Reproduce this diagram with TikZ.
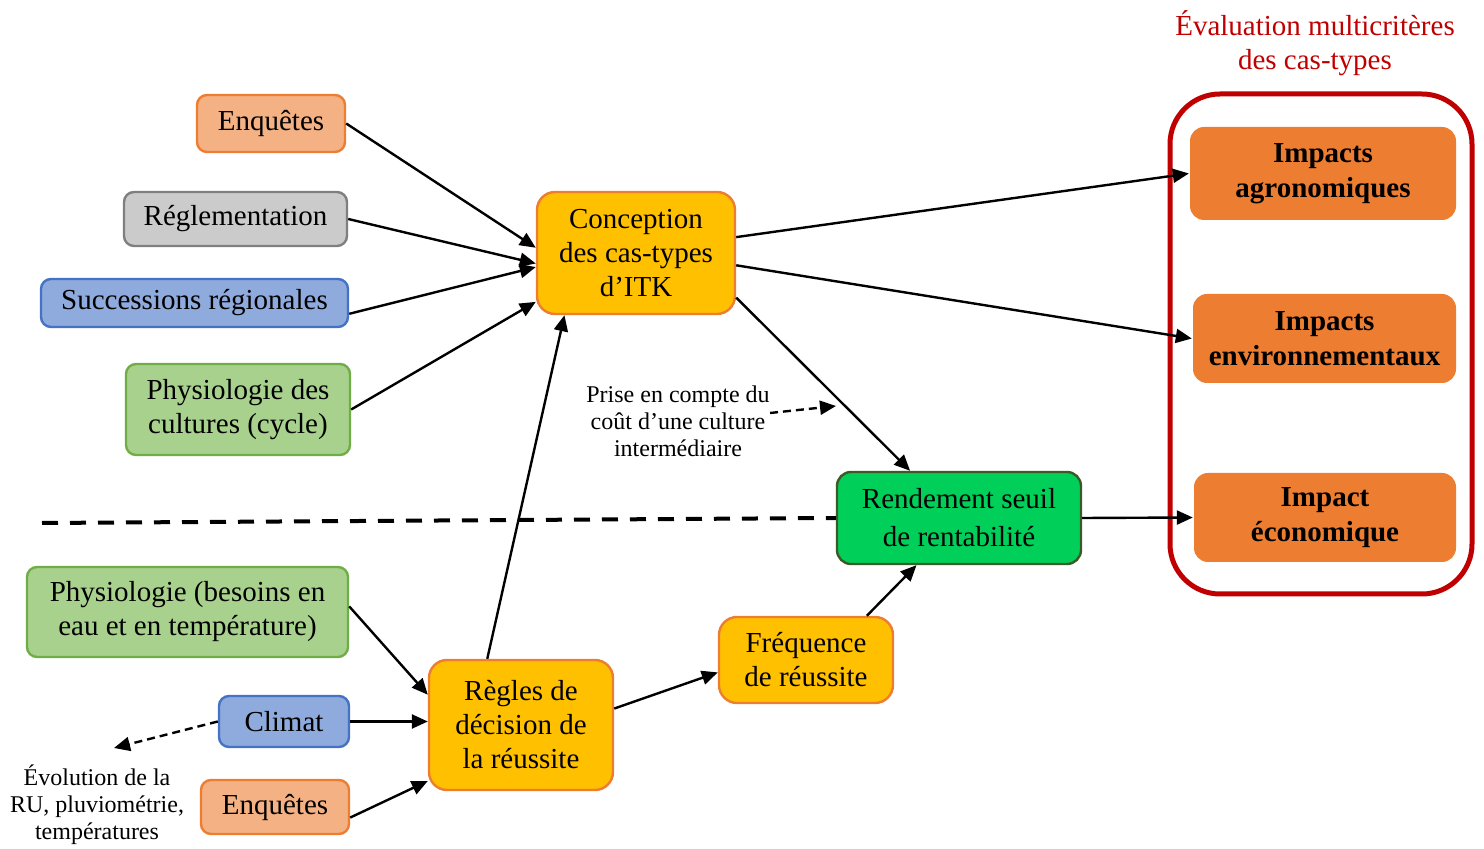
\documentclass[tikz,border=0pt]{standalone}
\usepackage{fontspec}
\setmainfont{Liberation Serif}
\usepackage{tikz}
\usetikzlibrary{arrows.meta,positioning,shapes}

\definecolor{enqfill}{HTML}{F4B183}
\definecolor{enqline}{HTML}{ED7D31}
\definecolor{reglfill}{HTML}{CBCBCB}
\definecolor{reglline}{HTML}{7F7F7F}
\definecolor{bluefill}{HTML}{8FAADC}
\definecolor{blueline}{HTML}{4472C4}
\definecolor{greenfill}{HTML}{A9D18E}
\definecolor{greenline}{HTML}{70AD47}
\definecolor{yelfill}{HTML}{FFC000}
\definecolor{impfill}{HTML}{ED7D31}
\definecolor{rendfill}{HTML}{00D05A}
\definecolor{rendline}{HTML}{3B5A27}
\definecolor{evalred}{HTML}{C00000}

\tikzset{
  box/.style = {draw, line width = 1.2pt, rounded corners = 5pt, align = center,
                inner sep = 0pt, font = \fontsize{14.5}{17}\selectfont},
  orangebox/.style = {box, fill = enqfill, draw = enqline},
  greybox/.style = {box, fill = reglfill, draw = reglline},
  bluebox/.style = {box, fill = bluefill, draw = blueline},
  greenbox/.style = {box, fill = greenfill, draw = greenline},
  yelbox/.style = {box, fill = yelfill, draw = enqline, rounded corners = 9pt},
  impbox/.style = {box, fill = impfill, draw = none, rounded corners = 7pt,
                   font = \fontsize{14.5}{17.5}\selectfont\bfseries},
  smalltext/.style = {align = center, inner sep = 0pt, font = \fontsize{12}{13.5}\selectfont},
  arr/.style = {-{Triangle[length = 8pt, width = 7pt]}, line width = 1.2pt},
  dasharr/.style = {arr, dash pattern = on 4pt off 2.5pt},
}

\begin{document}
\begin{tikzpicture}[x = .5pt, y = -.5pt]
\useasboundingbox (0,0) rectangle (1484,849);

% sources du haut
\node[orangebox, minimum width = 74pt, minimum height = 28.5pt] (enq1) at (271,123.5) {Enquêtes};
\node[greybox, minimum width = 111.5pt, minimum height = 27pt] (regl) at (235.5,219) {Réglementation};
\node[bluebox, minimum width = 153.5pt, minimum height = 24pt] (succ) at (194.5,303) {Successions régionales};
\node[greenbox, minimum width = 112pt, minimum height = 45.5pt] (physc) at (238,409.5) {Physiologie des\\cultures (cycle)};

% conception
\node[yelbox, minimum width = 99pt, minimum height = 61pt] (conc) at (636,253) {Conception\\des cas-types\\d’ITK};

% evaluation
\node[text = evalred, align = center, inner sep = 0pt, font = \fontsize{14.5}{17}\selectfont] (evaltitle) at (1315,43) {Évaluation multicritères\\des cas-types};
\draw[evalred, line width = 2.5pt, rounded corners = 25pt] (1170,94) rectangle (1472,594);
\node[impbox, minimum width = 133pt, minimum height = 46.5pt] (agro) at (1323,173.5) {Impacts\\agronomiques};
\node[impbox, minimum width = 131.5pt, minimum height = 44.5pt] (env) at (1324.5,338.5) {Impacts\\environnementaux};
\node[impbox, minimum width = 131pt, minimum height = 44.5pt] (eco) at (1325,517.5) {Impact\\économique};

% rentabilite
\node[box, fill = rendfill, draw = rendline, rounded corners = 7pt, minimum width = 122pt, minimum height = 46pt,
      font = \fontsize{14.5}{19}\selectfont] (rend) at (959,518) {Rendement seuil\\de rentabilité};
\node[smalltext] (prise) at (678,421) {Prise en compte du\\coût d’une culture\\intermédiaire};
\coordinate (prisetip) at (836,406);

% separation
\coordinate (sepstart) at (42,523);
\draw[line width = 2pt, dash pattern = on 8pt off 6pt] (sepstart) -- (rend.west);

% sources du bas
\node[greenbox, minimum width = 160.5pt, minimum height = 45pt] (physb) at (187.5,612) {Physiologie (besoins en\\eau et en température)};
\node[bluebox, minimum width = 65pt, minimum height = 25.5pt] (clim) at (284,721.5) {Climat};
\node[orangebox, minimum width = 74pt, minimum height = 27pt] (enq2) at (275,807) {Enquêtes};
\node[smalltext] (evol) at (97,805) {Évolution de la\\RU, pluviométrie,\\températures};
\coordinate (evoltip) at (114,748);

\node[yelbox, minimum width = 92pt, minimum height = 65pt] (regles) at (521,725) {Règles de\\décision de\\la réussite};
\node[yelbox, minimum width = 87pt, minimum height = 43pt] (freq) at (806,660) {Fréquence\\de réussite};

% fleches
\draw[arr] (enq1.east) -- (conc.177);
\draw[arr] (regl.east) -- (conc.186);
\draw[arr] (succ.-4) -- (conc.188);
\draw[arr] (physc.east) -- (conc.206);
\draw[arr] (regles.117) -- (conc.221);
\draw[arr] (conc.9) -- (agro.west);
\draw[arr] (conc.-7) -- (env.west);
\draw[arr] (conc.-24) -- (rend.136);
\draw[arr] (rend.east) -- (eco.west);
\draw[arr] (freq.36) -- (rend.228);
\draw[arr] (regles.10) -- (freq.188);
\draw[arr] (physb.2) -- (regles.162);
\draw[arr] (clim.east) -- (clim.east -| regles.west);
\draw[arr] (enq2.-8) -- (regles.211);
\draw[dasharr] (clim.west) -- (evoltip);
\draw[dasharr] ([yshift = 4pt]prise.east) -- (prisetip);
\end{tikzpicture}
\end{document}
